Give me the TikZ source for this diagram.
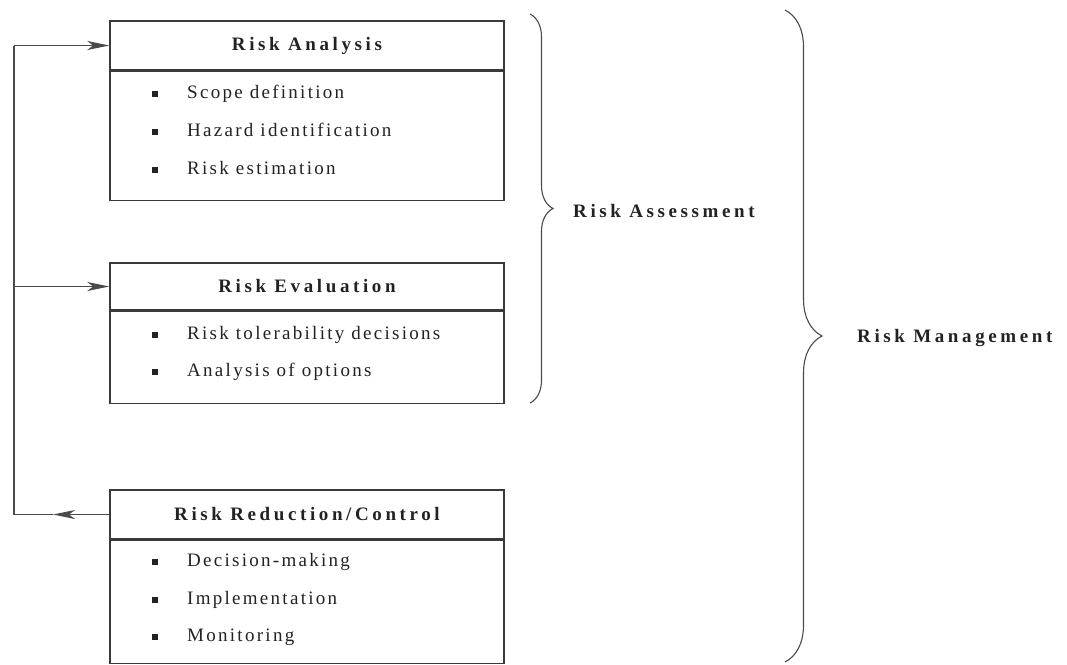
\documentclass[tikz,border=0pt]{standalone}
\usepackage{fontspec}
\setmainfont{Liberation Serif}[LetterSpace=12]
\newfontfamily\hdfont{Liberation Serif}[LetterSpace=19]
\usetikzlibrary{arrows.meta,decorations.pathreplacing}
\definecolor{boxc}{HTML}{3A3A3A}
\definecolor{linec}{HTML}{4A4A4A}
\definecolor{txtc}{HTML}{222222}
\newcommand\fsz{\fontsize{19pt}{23pt}\selectfont}
\newcommand\blt{\makebox[35pt][l]{\raisebox{2pt}{\rule{6pt}{6pt}}}}
\tikzset{
  box/.style={draw=boxc, line width=1.5pt, minimum width=394pt, inner sep=0pt},
  hdr/.style={box, text=txtc, font=\fsz\hdfont\bfseries},
  body/.style={box, anchor=north},
  itm/.style={anchor=west, inner sep=0pt, text height=13pt, text depth=4pt, text=txtc, font=\fsz},
  conn/.style={draw=linec, line width=1.1pt},
  arr/.style={conn, -{Stealth[length=22pt,width=9pt,inset=6pt]}},
  lbl/.style={anchor=west, inner sep=0pt, text=txtc, font=\fsz\hdfont\bfseries},
  brc/.style={draw=linec, line width=1.1pt, decorate, decoration={brace, amplitude=#1}}
}
\begin{document}
\begin{tikzpicture}[x=1pt, y=-1pt]
\useasboundingbox (0,0) rectangle (1067,664);

% Risk Analysis
\node[hdr, minimum height=49pt] (rah) at (307,45.5) {Risk Analysis};
\node[body, minimum height=129pt] (rab) at (rah.south) {};
\node[itm] (ra1) at (152,94) {\blt Scope definition};
\node[itm] (ra2) at (152,132) {\blt Hazard identification};
\node[itm] (ra3) at (152,170) {\blt Risk estimation};

% Risk Evaluation
\node[hdr, minimum height=47pt] (reh) at (307,286.5) {Risk Evaluation};
\node[body, minimum height=92pt] (reb) at (reh.south) {};
\node[itm] (re1) at (152,335) {\blt Risk tolerability decisions};
\node[itm] (re2) at (152,372) {\blt Analysis of options};

% Risk Reduction/Control
\node[hdr, minimum height=49pt] (rrh) at (307,514.5) {Risk Reduction/Control};
\node[body, minimum height=123pt] (rrb) at (rrh.south) {};
\node[itm] (rr1) at (152,562) {\blt Decision-making};
\node[itm] (rr2) at (152,600) {\blt Implementation};
\node[itm] (rr3) at (152,637) {\blt Monitoring};

% feedback loop
\coordinate (top) at (14,45.5);
\coordinate (bot) at (14,514.5);
\coordinate (mid) at (53,514.5);
\coordinate (jn) at (14,286.5);
\draw[arr] (rrh.west) -- (mid);
\draw[conn] (mid) -- (bot) -- (top);
\draw[arr] (top) -- (rah.west);
\draw[arr] (jn) -- (reh.west);

% braces
\coordinate (b1t) at (530,14);
\coordinate (b1b) at (530,403);
\coordinate (b2t) at (785,10);
\coordinate (b2b) at (785,662);
\draw[brc=23pt] (b1t) -- (b1b);
\draw[brc=37pt] (b2t) -- (b2b);
\node[lbl] (ras) at (573,211) {Risk Assessment};
\node[lbl] (rm) at (857,338) {Risk Management};
\end{tikzpicture}
\end{document}
